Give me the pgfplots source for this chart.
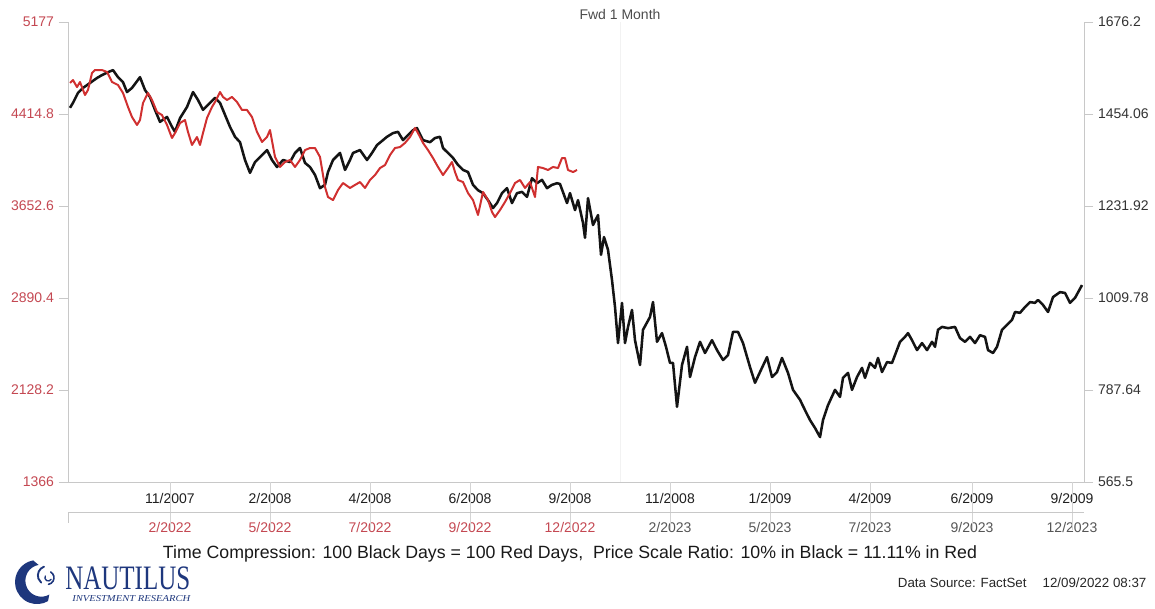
\documentclass[border=0pt]{standalone}
\usepackage{pgfplots}
\pgfplotsset{compat=1.18}
\usepackage{pgfplotstable}
\usepackage{fontspec}
\setmainfont{Liberation Sans}
\newfontfamily\logofont{Liberation Serif}
\definecolor{redline}{RGB}{208,48,48}
\definecolor{redlab}{RGB}{196,72,82}
\definecolor{graylab}{RGB}{85,85,85}
\definecolor{axisgray}{RGB}{200,200,200}
\definecolor{tickgray}{RGB}{212,212,212}
\definecolor{fwdgray}{RGB}{242,242,242}
\definecolor{navy}{RGB}{30,55,125}

\pgfplotstableread{
x y
1 1469
2.5 1481
5 1505
7.5 1517
11 1529
14.5 1541
17 1548
20 1555
22.5 1560
25 1543
27.5 1531
29.5 1507
32 1517
36 1543
38.5 1512
41 1495
43.5 1464
46 1435
49.5 1447
52 1423
53.5 1411
56 1444
59.5 1471
62.5 1507
65 1488
67.5 1464
70 1476
73.5 1493
76 1481
78.5 1452
81 1423
83.5 1399
86 1386
88.5 1343
91 1312
93.5 1338
96 1350
99.5 1367
102 1343
104.5 1326
107.5 1343
111 1338
113.5 1360
116 1372
118.5 1336
121 1326
123.5 1307
126 1275
128.5 1283
130 1314
132.5 1343
136 1360
138.5 1319
141 1343
142.5 1360
146 1367
149.5 1343
152 1360
154.5 1379
157.5 1391
159.5 1399
162.5 1408
165 1411
167.5 1391
170 1403
172.5 1415
174.5 1420
177.5 1391
181 1386
183.5 1396
186 1399
187.5 1372
190 1360
192.5 1348
195 1331
197.5 1319
200 1314
202.5 1283
205 1270
207.5 1263
210 1246
212.5 1227
214.5 1239
217 1263
219.5 1275
222 1239
224.5 1263
227 1266
229.5 1254
232 1299
234.5 1287
237 1295
239.5 1275
242 1283
244.5 1287
246 1285
249.5 1239
251 1263
253.5 1222
255 1246
257.5 1191
258.5 1155
260 1251
262.5 1186
265 1210
266.5 1114
268 1157
270 1126
272 1053
273.5 988
275 901
277 998
278.5 901
280 940
282 981
283.5 908
286 848
287.5 933
291 964
292.5 1000
294.5 904
297 925
299 892
301 853
302.5 853
304.5 747
307 848
309.5 892
311 819
313.5 867
316 904
318.5 877
322 908
324.5 884
327.5 860
330 872
332.5 928
335 928
337.5 901
341 843
343.5 805
346 831
349.5 867
352 819
354.5 831
357 865
360 829
362.5 788
366 764
368.5 739
371 715
373.5 696
376 674
377.5 715
380 751
383.5 788
386 771
387.5 817
390 829
392 788
394.5 819
397 841
398.5 817
401 853
403.5 841
405 865
407 831
409.5 855
412 853
413.5 872
416 904
418.5 916
420 925
422 908
424.5 884
427 901
429.5 884
432 904
433.5 892
435 933
437 940
440 937
443.5 940
446 913
448.5 904
451 916
453.5 901
456 920
458.5 916
460 884
462.5 877
464.5 892
467 933
469.5 945
472 957
473.5 976
476 974
478.5 988
481 1000
483.5 998
485 1005
487.5 993
490 976
492.5 1012
496 1024
498.5 1022
501 998
503.5 1010
507 1041
}\blackdata

\pgfplotstableread{
x y
1 4672
2.5 4696
4.5 4638
6 4680
8.5 4572
10 4614
12 4754
13.5 4779
17 4779
19.5 4763
22 4680
25 4655
27.5 4589
30 4473
32 4390
34.5 4324
36 4365
37.5 4506
40 4589
42 4531
44.5 4431
47 4406
49.5 4324
52 4216
53.5 4257
56 4340
58.5 4365
60 4266
62 4158
64.5 4224
66 4158
67.5 4257
69.5 4382
72 4473
73.5 4514
76 4597
77.5 4556
79.5 4531
82 4556
84.5 4514
87 4448
89.5 4448
92 4390
94.5 4266
97 4183
99.5 4224
101 4282
103.5 4059
106 3976
108.5 4017
111 4034
113.5 3976
116 4034
118.5 4116
121 4133
123.5 4133
126 4059
128.5 3810
130 3727
132.5 3702
135 3785
137.5 3843
141 3802
143.5 3827
146 3851
148.5 3802
151 3868
153.5 3909
156 3967
158.5 3992
161 4075
163.5 4133
166 4141
168.5 4175
171 4224
173.5 4299
175 4257
177.5 4175
180 4116
182.5 4050
185 3976
187.5 3909
190 3967
192 4017
193.5 3934
195 3868
197.5 3851
200 3760
202.5 3702
205 3578
207.5 3769
210 3702
212 3603
213.5 3561
216 3619
218.5 3686
221 3760
223.5 3843
226 3868
228.5 3802
231 3851
233.5 3727
235 3976
237.5 3967
240 3951
242.5 3976
245 3967
247 4050
248.5 4050
250 3951
252.5 3934
254.5 3951
}\reddata

\pgfplotsset{
  common/.style={
    at={(51pt,94.5pt)}, anchor=south west,
    scale only axis, width=762pt, height=345pt,
    xmin=0, xmax=508, clip=false,
    axis line style={-, draw=axisgray, line width=0.6pt},
    tick align=outside, major tick length=7pt,
    ytick style={draw=axisgray, line width=0.6pt},
    xtick style={draw=none},
    xtick={51,101,151,201,251,301,351,401,452,502},
    ticklabel style={font=\fontsize{10.5}{12}\selectfont},
  }
}

\begin{document}
\begin{tikzpicture}
\path[use as bounding box] (0,0) rectangle (866.25pt,456pt);

% black series, right axis
\begin{axis}[common,
  ymin=565.5, ymax=1676.2,
  axis y line*=right, axis x line*=bottom,
  x axis line style={draw=none},
  ytick={565.5,787.64,1009.78,1231.92,1454.06,1676.2},
  yticklabels={565.5,787.64,1009.78,1231.92,1454.06,1676.2},
  yticklabel style={text=black!80},
  xticklabels={\textcolor{redlab}{2/2022},\textcolor{redlab}{5/2022},\textcolor{redlab}{7/2022},\textcolor{redlab}{9/2022},\textcolor{redlab}{12/2022},\textcolor{graylab}{2/2023},\textcolor{graylab}{5/2023},\textcolor{graylab}{7/2023},\textcolor{graylab}{9/2023},\textcolor{graylab}{12/2023}},
  xticklabel style={yshift=-20pt},
]
\draw[fwdgray, line width=0.5pt] (axis cs:276,565.5) -- (axis cs:276,1676.2);
\addplot[black!92, line width=1.9pt, line join=round] table {\blackdata};
\end{axis}

% red series, left axis
\begin{axis}[common,
  ymin=1366, ymax=5177,
  axis y line*=left, axis x line*=bottom,
  ytick={1366,2128.2,2890.4,3652.6,4414.8,5177},
  yticklabels={1366,2128.2,2890.4,3652.6,4414.8,5177},
  yticklabel style={text=redlab},
  xticklabels={11/2007,2/2008,4/2008,6/2008,9/2008,11/2008,1/2009,4/2009,6/2009,9/2009},
  xticklabel style={text=black!88, yshift=2pt},
]
\pgfplotsinvokeforeach{51,101,151,201,251,301,351,401,452,502}{
  \draw[tickgray, line width=0.6pt] (axis cs:#1,1366) -- ([yshift=-36pt]axis cs:#1,1366);
}
\draw[axisgray, line width=0.6pt] ([yshift=-22.5pt]rel axis cs:0,0) -- ([yshift=-22.5pt]rel axis cs:1,0);
\draw[axisgray, line width=0.6pt] ([yshift=-22.5pt]rel axis cs:0,0) -- ([yshift=-31pt]rel axis cs:0,0);
\addplot[redline, line width=1.5pt, line join=round] table {\reddata};
\node[text=black!70, font=\fontsize{10.5}{12}\selectfont] at ([yshift=5.5pt]axis cs:276,5177) {Fwd 1 Month};
\end{axis}

% caption
\node[font=\fontsize{13.3}{15}\selectfont, text=black!90] at (427.5pt,40.5pt)
  {Time Compression: 100 Black Days = 100 Red Days,\ \ Price Scale Ratio: 10\% in Black = 11.11\% in Red};
\node[anchor=east, font=\fontsize{10}{12}\selectfont, text=black!85, inner sep=0pt] at (860pt,18.75pt)
  {Data Source: FactSet\hspace{1.2em}12/09/2022 08:37};

% logo
\fill[navy] (24.9pt,35.7pt) arc[start angle=100, end angle=300, radius=16.5pt]
  -- (37pt,10.1pt) arc[start angle=300, end angle=100, radius=12pt] -- cycle;
\draw[navy, line width=1.4pt, line cap=round] (33pt,31pt) arc[start angle=110, end angle=230, radius=7pt];
\draw[navy, line width=1.2pt, line cap=round] (38pt,27pt) arc[start angle=60, end angle=-80, radius=5pt];
\draw[navy, line width=1.0pt, line cap=round] (34pt,24pt) arc[start angle=150, end angle=330, radius=2.5pt];
\node[anchor=south west, inner sep=0pt, text=navy] at (48.75pt,13.5pt)
  {\resizebox{93.75pt}{17pt}{\logofont NAUTILUS}};
\node[anchor=south west, inner sep=0pt, text=navy] at (54pt,4.5pt)
  {\resizebox{88.5pt}{4.5pt}{\logofont\itshape INVESTMENT RESEARCH}};
\end{tikzpicture}
\end{document}
